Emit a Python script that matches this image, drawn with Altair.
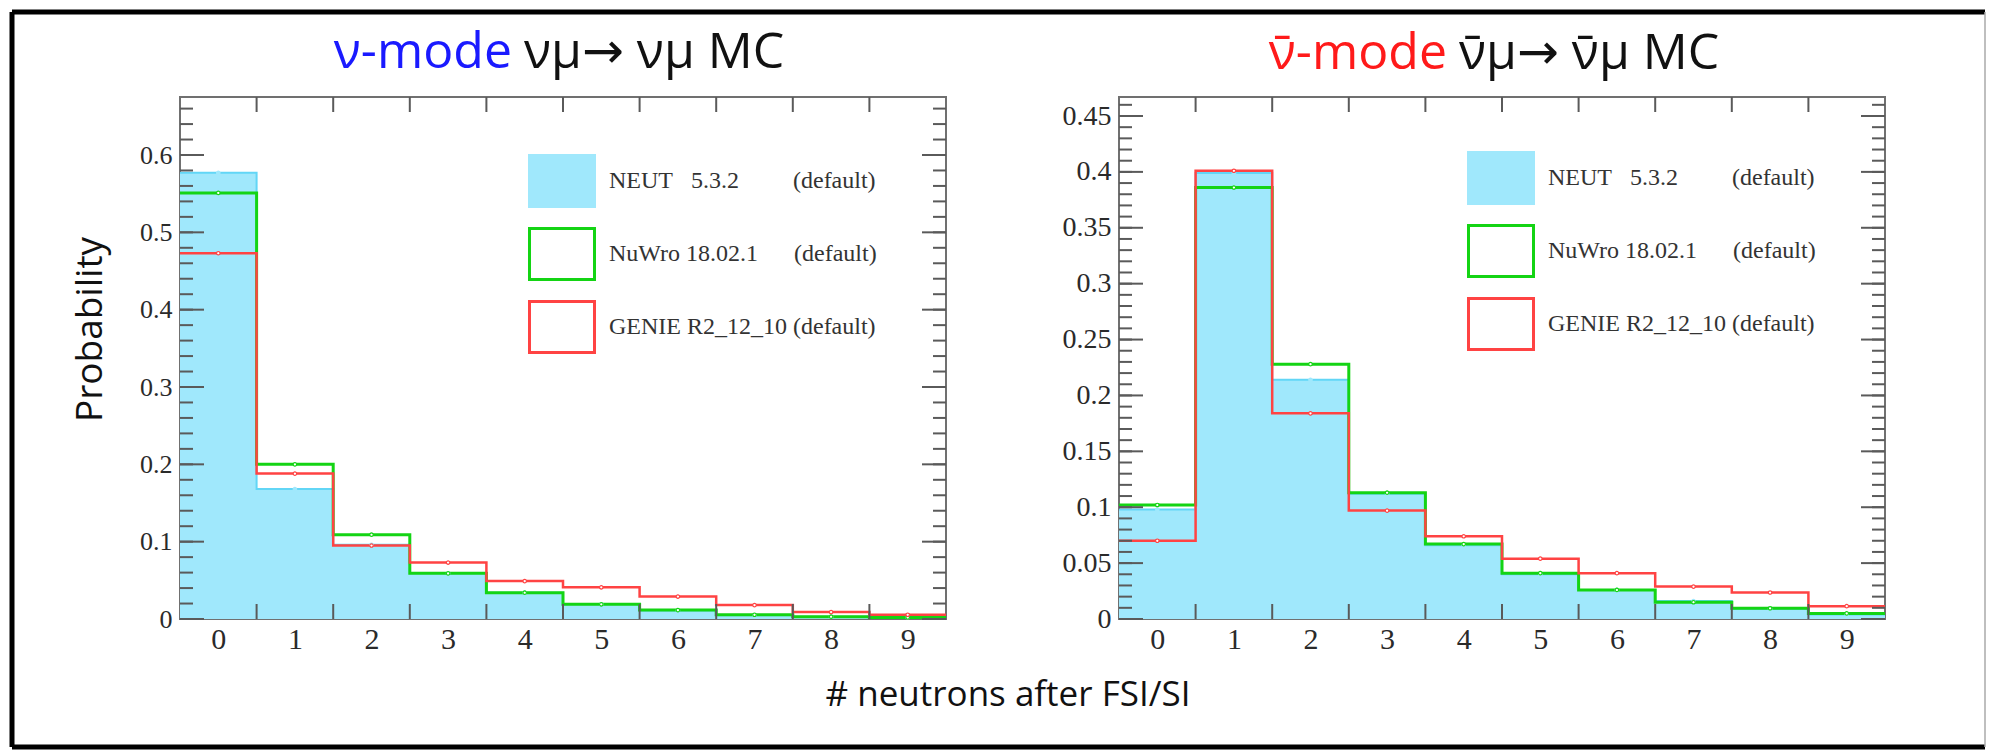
import altair as alt
import pandas as pd

NB = "\u00a0"

# ---------------- data ----------------
bins = [0, 1, 2, 3, 4, 5, 6, 7, 8, 9]
inner_edges = [0.5, 1.5, 2.5, 3.5, 4.5, 5.5, 6.5, 7.5, 8.5]

models = [
    "NEUT" + NB * 3 + "5.3.2" + NB * 9 + "(default)",
    "NuWro 18.02.1" + NB * 6 + "(default)",
    "GENIE R2_12_10 (default)",
]

# neutrino mode
nu_neut = [0.577, 0.168, 0.096, 0.059, 0.034, 0.019, 0.011, 0.005, 0.003, 0.002]
nu_nuwro = [0.551, 0.200, 0.109, 0.059, 0.034, 0.019, 0.0115, 0.0055, 0.003, 0.002]
nu_genie = [0.473, 0.188, 0.095, 0.073, 0.049, 0.041, 0.029, 0.018, 0.009, 0.0055]

# anti-neutrino mode
anu_neut = [0.098, 0.399, 0.214, 0.112, 0.066, 0.040, 0.026, 0.016, 0.009, 0.004]
anu_nuwro = [0.102, 0.386, 0.228, 0.113, 0.067, 0.041, 0.026, 0.015, 0.0096, 0.005]
anu_genie = [0.070, 0.401, 0.184, 0.097, 0.074, 0.054, 0.041, 0.029, 0.0237, 0.0115]

left_y_major = [0, 0.1, 0.2, 0.3, 0.4, 0.5, 0.6]
left_y_minor = [round(0.02 * i, 2) for i in range(34)]
right_y_major = [0, 0.05, 0.1, 0.15, 0.2, 0.25, 0.3, 0.35, 0.4, 0.45]
right_y_minor = [round(0.01 * i, 2) for i in range(47)]

left_title = ["\u03bd-mode", "\u03bd\u03bc\u2192 \u03bd\u03bc MC"]
right_title = ["\u03bd\u0304-mode", "\u03bd\u0304\u03bc\u2192 \u03bd\u0304\u03bc MC"]
x_title = "# neutrons after FSI/SI"
y_title = "Probability"

# ---------------- style ----------------
W, H = 766, 522
NEUT_FILL = "#a0e8fc"
NEUT_LINE = "#62d6f6"
GREEN = "#14d414"
RED = "#ff4343"
TICK = "#5a5a5a"
LABEL = "#2a2a2a"
SERIF = "Liberation Serif"
SANS = "Open Sans, DejaVu Sans"


def panel(neut, nuwro, genie, ymax, y_major, y_minor, ylab_size, title, title_color,
          title_split, title_y, legend_y, first):
    xs = alt.Scale(domain=[-0.5, 9.5], nice=False, zero=False)
    ys = alt.Scale(domain=[0, ymax], nice=False, zero=True)

    rows = []
    centers = []
    for m, vals in zip(models, [neut, nuwro, genie]):
        for b, v in zip(bins, vals):
            rows.append({"model": m, "edge": b - 0.5, "p": v})
            centers.append({"model": m, "n": b, "p": v})
        rows.append({"model": m, "edge": bins[-1] + 0.5, "p": vals[-1]})
    steps = pd.DataFrame(rows)
    cen = pd.DataFrame(centers)

    xaxis = alt.Axis(values=bins, format="d", ticks=False, domain=False, grid=False,
                     labelFont=SERIF, labelFontSize=30, labelColor=LABEL, labelPadding=5,
                     title=None)
    if first:
        yaxis = alt.Axis(values=y_major, format="~g", ticks=False, domain=False, grid=False,
                         labelFont=SERIF, labelFontSize=ylab_size, labelColor=LABEL,
                         labelPadding=8, title=y_title, titleFont=SANS, titleFontSize=37,
                         titleFontWeight="normal", titleColor="#111111", titleX=-79,
                         titleY=232, titleAngle=270, titleAlign="center",
                         titleBaseline="alphabetic")
    else:
        yaxis = alt.Axis(values=y_major, format="~g", ticks=False, domain=False, grid=False,
                         labelFont=SERIF, labelFontSize=ylab_size, labelColor=LABEL,
                         labelPadding=8, title=None)

    X = lambda f: alt.X(f, scale=xs, axis=xaxis)
    Y = lambda f: alt.Y(f, scale=ys, axis=yaxis)

    area = alt.Chart(steps[steps.model == models[0]]).mark_area(
        interpolate="step-after", color=NEUT_FILL, opacity=1
    ).encode(x=X("edge:Q"), y=Y("p:Q"))

    def step_line(m, color, w):
        return alt.Chart(steps[steps.model == m]).mark_line(
            interpolate="step-after", color=color, strokeWidth=w
        ).encode(x=X("edge:Q"), y=Y("p:Q"))

    l_neut = step_line(models[0], NEUT_LINE, 2)
    l_green = step_line(models[1], GREEN, 3)
    l_red = step_line(models[2], RED, 2.5)

    fill_scale = alt.Scale(domain=models, range=[NEUT_FILL, "white", "white"])
    stroke_scale = alt.Scale(domain=models, range=[NEUT_FILL, GREEN, RED])
    leg = alt.Legend(title=None, orient="none", legendX=348, legendY=legend_y,
                     symbolType="M-1,-0.785H1V0.785H-1Z", symbolSize=4225,
                     symbolStrokeWidth=3, symbolOpacity=1, labelFont=SERIF, labelFontSize=24,
                     labelColor="#333333", labelOffset=13, rowPadding=7, padding=0,
                     labelLimit=500)
    dots = alt.Chart(cen).mark_point(filled=True, size=12, opacity=1, strokeWidth=1.2).encode(
        x=X("n:Q"), y=Y("p:Q"),
        fill=alt.Fill("model:N", scale=fill_scale, legend=leg),
        stroke=alt.Stroke("model:N", scale=stroke_scale, legend=leg),
    )

    xt = pd.DataFrame({"e": inner_edges})
    ymaj = pd.DataFrame({"v": y_major})
    ymin = pd.DataFrame({"v": y_minor})
    rule = dict(color=TICK, strokeWidth=2)
    ticks = [
        alt.Chart(xt).mark_rule(**rule).encode(x=X("e:Q"), y=alt.value(H - 15), y2=alt.value(H)),
        alt.Chart(xt).mark_rule(**rule).encode(x=X("e:Q"), y=alt.value(0), y2=alt.value(15)),
        alt.Chart(ymaj).mark_rule(**rule).encode(y=Y("v:Q"), x=alt.value(0), x2=alt.value(24)),
        alt.Chart(ymaj).mark_rule(**rule).encode(y=Y("v:Q"), x=alt.value(W - 24), x2=alt.value(W)),
        alt.Chart(ymin).mark_rule(**rule).encode(y=Y("v:Q"), x=alt.value(0), x2=alt.value(13)),
        alt.Chart(ymin).mark_rule(**rule).encode(y=Y("v:Q"), x=alt.value(W - 13), x2=alt.value(W)),
    ]

    t1 = alt.Chart(pd.DataFrame({"t": [title[0]]})).mark_text(
        font=SANS, fontSize=50, align="right", baseline="alphabetic", color=title_color
    ).encode(text="t:N", x=alt.value(title_split), y=alt.value(title_y))
    t2 = alt.Chart(pd.DataFrame({"t": [title[1]]})).mark_text(
        font=SANS, fontSize=50, align="left", baseline="alphabetic", color="#111111"
    ).encode(text="t:N", x=alt.value(title_split + 12), y=alt.value(title_y))

    layers = [area, l_neut, l_green, l_red, dots] + ticks + [t1, t2]

    if first:
        xt_title = alt.Chart(pd.DataFrame({"t": [x_title]})).mark_text(
            font=SANS, fontSize=35, align="center", baseline="alphabetic", color="#111111"
        ).encode(text="t:N", x=alt.value(828), y=alt.value(609))
        one = pd.DataFrame({"k": [0]})
        border = [
            alt.Chart(one).mark_rule(color="black", strokeWidth=5).encode(
                x=alt.value(-168), x2=alt.value(1805), y=alt.value(-85), y2=alt.value(-85)),
            alt.Chart(one).mark_rule(color="black", strokeWidth=5).encode(
                x=alt.value(-168), x2=alt.value(-168), y=alt.value(-85), y2=alt.value(650)),
            alt.Chart(one).mark_rule(color="black", strokeWidth=5).encode(
                x=alt.value(-168), x2=alt.value(1805), y=alt.value(650), y2=alt.value(650)),
            alt.Chart(one).mark_rule(color="#aaaaaa", strokeWidth=1.5).encode(
                x=alt.value(1805), x2=alt.value(1805), y=alt.value(-85), y2=alt.value(650)),
        ]
        layers = layers + [xt_title] + border

    return alt.layer(*layers).properties(width=W, height=H)


left = panel(nu_neut, nu_nuwro, nu_genie, 0.675, left_y_major, left_y_minor, 26,
             left_title, "#1a1aff", 332, -29, 50, True)
right = panel(anu_neut, anu_nuwro, anu_genie, 0.467, right_y_major, right_y_minor, 28,
              right_title, "#ff1a1a", 328, -28, 47, False)

chart = alt.hconcat(left, right, spacing=173, bounds="flush", padding=0,
                    background="white").resolve_scale(
    x="independent", y="independent", fill="independent", stroke="independent"
).resolve_legend(fill="independent", stroke="independent").configure_view(
    stroke="#707070", strokeWidth=2
)

chart.save("out.html", embed_options={"renderer": "svg", "actions": False})
